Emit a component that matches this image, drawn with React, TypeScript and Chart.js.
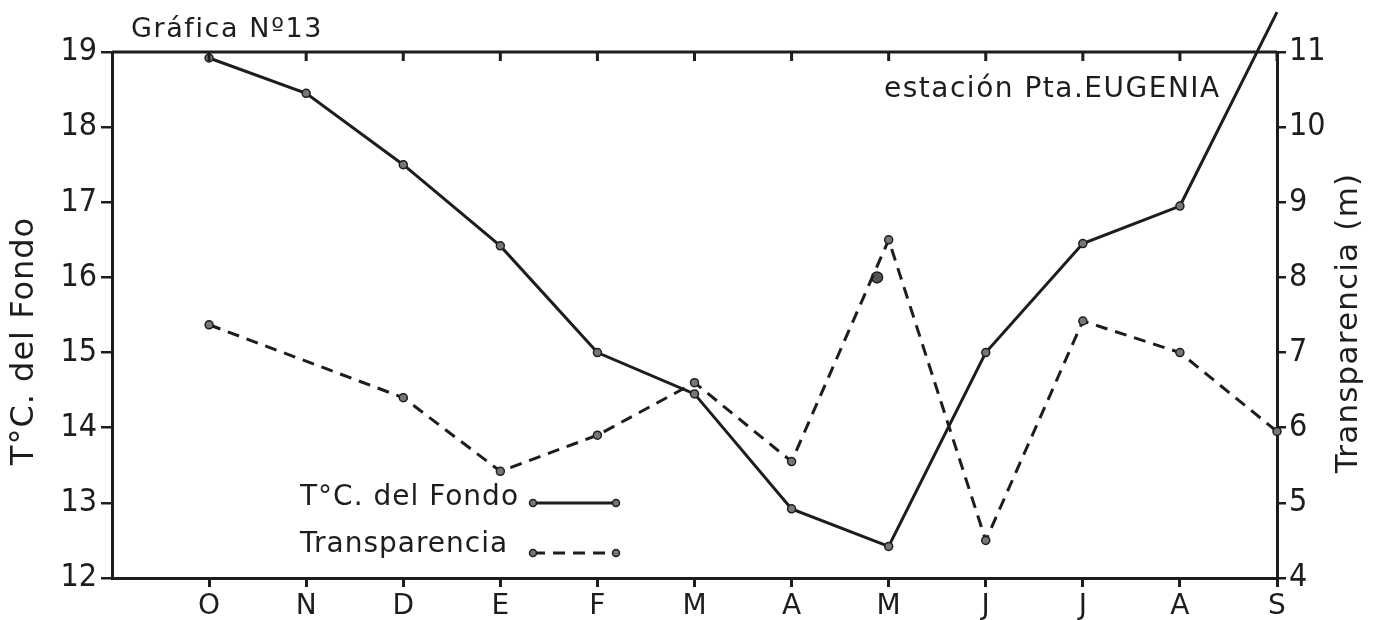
import React, { useEffect, useRef } from 'react';
import { Chart, registerables } from 'chart.js';

Chart.register(...registerables);

// Months of the sampling year (October to September)
const months = ['O', 'N', 'D', 'E', 'F', 'M', 'A', 'M', 'J', 'J', 'A', 'S'];

// Bottom temperature (°C), left axis
const tempFondo = [18.92, 18.45, 17.5, 16.42, 15.0, 14.45, 12.92, 12.42, 15.0, 16.45, 16.95, 19.53];

// Transparency (m), right axis; no reading in November
const transparencia = [7.37, null, 6.4, 5.42, 5.9, 6.6, 5.55, 8.5, 4.5, 7.42, 7.0, 5.95];

// Loose dot drawn beside the May transparency peak: [month index, metres]
const marcaSuelta = [6.88, 8.0];

const seriesNames = ['T°C. del Fondo', 'Transparencia'];
const tituloGrafica = 'Gráfica Nº13';
const estacion = 'estación Pta.EUGENIA';
const tituloIzq = 'T°C. del Fondo';
const tituloDer = 'Transparencia (m)';

const INK = '#1d1d1d';
const TEXT_FONT = '"DejaVu Sans", "Noto Sans", sans-serif';
const NUM_FONT = '"Liberation Sans Narrow", "DejaVu Sans Condensed", "DejaVu Sans", sans-serif';

function spaced(ctx: any, px: number) {
  if ('letterSpacing' in ctx) ctx.letterSpacing = `${px}px`;
}

const decorations = {
  id: 'decorations',
  afterDraw(chart: any) {
    const { ctx, chartArea, scales } = chart;
    const x = scales.x;
    ctx.save();

    // top frame line with inward tick marks
    ctx.strokeStyle = INK;
    ctx.lineWidth = 3;
    ctx.beginPath();
    ctx.moveTo(chartArea.left, chartArea.top);
    ctx.lineTo(chartArea.right, chartArea.top);
    ctx.stroke();
    months.forEach((_, i) => {
      const px = x.getPixelForValue(i);
      ctx.beginPath();
      ctx.moveTo(px, chartArea.top);
      ctx.lineTo(px, chartArea.top + 9);
      ctx.stroke();
    });

    ctx.fillStyle = INK;
    ctx.textBaseline = 'alphabetic';
    ctx.textAlign = 'left';

    // chart number and station name
    ctx.font = `27px ${TEXT_FONT}`;
    spaced(ctx, 1.6);
    ctx.fillText(tituloGrafica, 131, 37);
    ctx.font = `28px ${TEXT_FONT}`;
    spaced(ctx, 1.5);
    ctx.fillText(estacion, 884, 97);

    // axis titles
    ctx.textAlign = 'center';
    ctx.textBaseline = 'middle';
    ctx.save();
    ctx.font = `32px ${TEXT_FONT}`;
    spaced(ctx, 1);
    ctx.translate(25, 341);
    ctx.rotate(-Math.PI / 2);
    ctx.fillText(tituloIzq, 0, 0);
    ctx.restore();
    ctx.save();
    ctx.font = `31px ${TEXT_FONT}`;
    spaced(ctx, 1.2);
    ctx.translate(1349, 323);
    ctx.rotate(-Math.PI / 2);
    ctx.fillText(tituloDer, 0, 0);
    ctx.restore();

    // legend
    ctx.textAlign = 'left';
    ctx.textBaseline = 'alphabetic';
    ctx.font = `28px ${TEXT_FONT}`;
    spaced(ctx, 1);
    const rows = [
      { text: seriesNames[0], base: 505, y: 503, dash: [] as number[] },
      { text: seriesNames[1], base: 552, y: 553, dash: [12, 8] },
    ];
    rows.forEach((r) => {
      ctx.fillText(r.text, 300, r.base);
      ctx.setLineDash(r.dash);
      ctx.lineWidth = 3;
      ctx.beginPath();
      ctx.moveTo(533, r.y);
      ctx.lineTo(616, r.y);
      ctx.stroke();
      ctx.setLineDash([]);
      [533, 616].forEach((cx) => {
        ctx.beginPath();
        ctx.arc(cx, r.y, 3.5, 0, Math.PI * 2);
        ctx.fillStyle = '#777';
        ctx.fill();
        ctx.lineWidth = 1.5;
        ctx.stroke();
        ctx.fillStyle = INK;
      });
    });

    ctx.restore();
  },
};

export default function App() {
  const ref = useRef<HTMLCanvasElement>(null);

  useEffect(() => {
    document.body.style.margin = '0';
    const canvas = ref.current;
    if (!canvas) return;

    const pointStyle = {
      pointRadius: 4,
      pointBackgroundColor: '#777',
      pointBorderColor: INK,
      pointBorderWidth: 1.5,
    };

    const chart = new Chart(canvas, {
      type: 'line',
      data: {
        datasets: [
          {
            label: seriesNames[0],
            data: tempFondo.map((v, i) => ({ x: i, y: v })),
            yAxisID: 'y',
            borderColor: INK,
            borderWidth: 3,
            tension: 0,
            clip: false as any,
            ...pointStyle,
          },
          {
            label: seriesNames[1],
            data: transparencia.map((v, i) => ({ x: i, y: v })),
            yAxisID: 'y1',
            borderColor: INK,
            borderWidth: 3,
            borderDash: [12, 8],
            spanGaps: true,
            tension: 0,
            clip: false as any,
            ...pointStyle,
          },
          {
            label: '',
            data: [{ x: marcaSuelta[0], y: marcaSuelta[1] }],
            yAxisID: 'y1',
            showLine: false,
            pointRadius: 5.5,
            pointBackgroundColor: '#555',
            pointBorderColor: INK,
            pointBorderWidth: 1.5,
          },
        ],
      },
      options: {
        responsive: false,
        animation: false,
        layout: { padding: { top: 52, left: 0, right: 0, bottom: 0 } },
        plugins: {
          legend: { display: false },
          tooltip: { enabled: false },
          title: { display: false },
        },
        scales: {
          x: {
            type: 'linear',
            min: -1,
            max: 11,
            afterBuildTicks: (s: any) => {
              s.ticks = months.map((_, i) => ({ value: i }));
            },
            afterFit: (s: any) => {
              s.height = 42;
            },
            ticks: {
              autoSkip: false,
              maxRotation: 0,
              padding: 3,
              color: INK,
              font: { family: TEXT_FONT, size: 28 },
              callback: (v: any) => months[v] ?? '',
            },
            grid: { drawOnChartArea: false, tickLength: 9, lineWidth: 3, color: INK },
            border: { display: true, width: 3, color: INK },
          },
          y: {
            position: 'left',
            min: 12,
            max: 19,
            afterFit: (s: any) => {
              s.width = 112;
            },
            ticks: {
              stepSize: 0.5,
              padding: 4,
              color: INK,
              font: { family: NUM_FONT, size: 32 },
              callback: (v: any) => (Number.isInteger(v) ? String(v) : ''),
            },
            grid: { drawOnChartArea: false, tickLength: 11, lineWidth: 2.5, color: INK },
            border: { display: true, width: 3, color: INK },
          },
          y1: {
            position: 'right',
            min: 4,
            max: 11,
            afterFit: (s: any) => {
              s.width = 105;
            },
            ticks: {
              stepSize: 0.5,
              padding: 3,
              color: INK,
              font: { family: NUM_FONT, size: 32 },
              callback: (v: any) => (Number.isInteger(v) ? String(v) : ''),
            },
            grid: { drawOnChartArea: false, tickLength: 9, lineWidth: 2.5, color: INK },
            border: { display: true, width: 3, color: INK },
          },
        },
      },
      plugins: [decorations],
    });

    return () => chart.destroy();
  }, []);

  return <canvas ref={ref} width={1382} height={620} style={{ display: 'block' }} />;
}
